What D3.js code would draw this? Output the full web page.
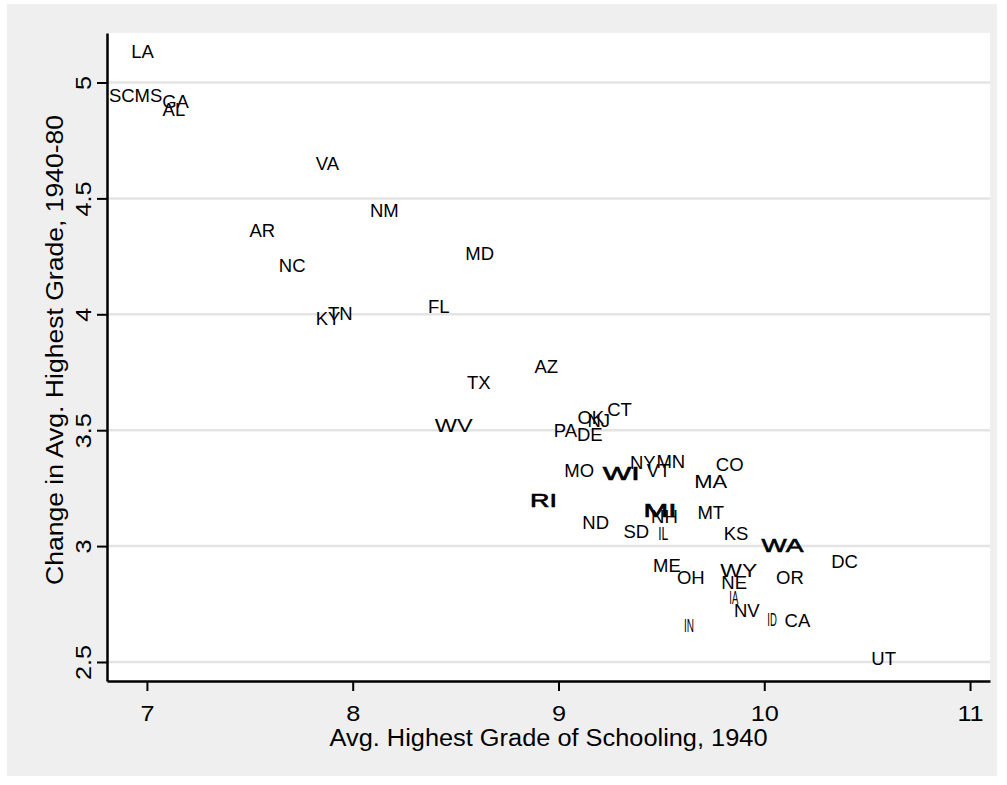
<!DOCTYPE html>
<html>
<head>
<meta charset="utf-8">
<script src="https://cdn.jsdelivr.net/npm/d3@7"></script>
<style>
  html, body { margin: 0; padding: 0; background: #ffffff; }
  svg text { font-family: "Liberation Sans", Arial, Helvetica, sans-serif; fill: #000; }
</style>
</head>
<body>
<svg id="chart" width="1007" height="785"></svg>
<script>
// State abbreviations, average highest grade in 1940, and change 1940-80
const states = ["LA","SC","MS","GA","AL","VA","NM","AR","NC","MD","TN","KY","FL",
  "TX","AZ","WV","OK","NJ","CT","PA","DE","MO","WI","NY","VT","MN","CO","MA",
  "RI","MI","NH","MT","ND","SD","IL","KS","WA","DC","ME","OH","WY","NE","OR",
  "IA","NV","ID","CA","IN","UT"];
const grade1940 = [6.979,6.878,7.007,7.139,7.131,7.877,8.154,7.561,7.706,8.617,7.940,7.880,8.418,
  8.613,8.941,8.491,9.157,9.196,9.297,9.034,9.152,9.101,9.305,9.410,9.487,9.546,9.832,9.740,
  8.927,9.493,9.515,9.740,9.181,9.378,9.509,9.863,10.089,10.390,9.527,9.643,9.876,9.854,10.125,
  9.852,9.915,10.038,10.161,9.634,10.580];
const change4080 = [5.136,4.944,4.944,4.920,4.884,4.651,4.450,4.364,4.213,4.263,4.004,3.983,4.033,
  3.706,3.774,3.519,3.556,3.544,3.592,3.500,3.481,3.327,3.314,3.361,3.328,3.364,3.353,3.280,
  3.197,3.156,3.129,3.144,3.102,3.065,3.057,3.055,3.005,2.935,2.916,2.865,2.897,2.842,2.865,
  2.777,2.721,2.686,2.678,2.657,2.517];

const xTicks = [7, 8, 9, 10, 11];
const yTicks = [2.5, 3, 3.5, 4, 4.5, 5];
const xTitle = "Avg. Highest Grade of Schooling, 1940";
const yTitle = "Change in Avg. Highest Grade, 1940-80";

// Labels whose glyphs render wide/heavy or narrow in this font (width in px)
const labelWidth = {WI: 37, WA: 42, WV: 38, WY: 37, RI: 27, MI: 33, MA: 33,
                    IA: 9, IN: 10, ID: 9.5, IL: 10};
const heavyLabels = new Set(["WI", "WA", "RI", "MI"]);

const plot = {left: 107, right: 990, top: 33, bottom: 681};

const svg = d3.select("#chart");

// outer graph region and plot region
svg.append("rect").attr("x", 7).attr("y", 4).attr("width", 990).attr("height", 772)
  .attr("fill", "#efefef");
svg.append("rect").attr("x", plot.left).attr("y", plot.top)
  .attr("width", plot.right - plot.left).attr("height", plot.bottom - plot.top)
  .attr("fill", "#ffffff");

const x = d3.scaleLinear().domain([6.806, 11.097]).range([plot.left, plot.right]);
const y = d3.scaleLinear().domain([2.418, 5.2135]).range([plot.bottom, plot.top]);

// horizontal grid lines
svg.append("g").selectAll("line").data(yTicks).join("line")
  .attr("x1", plot.left).attr("x2", plot.right)
  .attr("y1", d => y(d)).attr("y2", d => y(d))
  .attr("stroke", "#e4e4e4").attr("stroke-width", 2.5);

// stretch helper: widen text horizontally by a factor
function stretch(sel, factor) {
  sel.each(function() {
    const len = this.getComputedTextLength();
    d3.select(this).attr("textLength", len * factor).attr("lengthAdjust", "spacingAndGlyphs");
  });
}

// y axis
const yAxis = svg.append("g").attr("transform", `translate(${plot.left},0)`)
  .call(d3.axisLeft(y).tickValues(yTicks).tickFormat(d3.format("")).tickSize(10).tickSizeOuter(0));
yAxis.select(".domain").attr("stroke", "#000").attr("stroke-width", 2.5);
yAxis.selectAll(".tick line").attr("stroke", "#000").attr("stroke-width", 2);
yAxis.selectAll(".tick text")
  .attr("transform", "rotate(-90)")
  .attr("x", 0).attr("y", -16).attr("dy", 0)
  .attr("text-anchor", "middle")
  .style("font-size", "22.5px").style("font-family", null);
stretch(yAxis.selectAll(".tick text"), 1.12);

// x axis
const xAxis = svg.append("g").attr("transform", `translate(0,${plot.bottom})`)
  .call(d3.axisBottom(x).tickValues(xTicks).tickFormat(d3.format("")).tickSize(10).tickSizeOuter(0).tickPadding(14));
xAxis.select(".domain").attr("stroke", "#000").attr("stroke-width", 2.5);
xAxis.selectAll(".tick line").attr("stroke", "#000").attr("stroke-width", 2);
xAxis.selectAll(".tick text").style("font-size", "22px").style("font-family", null);
stretch(xAxis.selectAll(".tick text"), 1.15);
svg.selectAll(".tick text").attr("fill", "#000");

// axis titles
svg.append("text")
  .attr("x", (plot.left + plot.right) / 2).attr("y", 746)
  .attr("text-anchor", "middle").style("font-size", "23px")
  .attr("textLength", 438).attr("lengthAdjust", "spacingAndGlyphs")
  .text(xTitle);
svg.append("text")
  .attr("transform", "translate(63,350) rotate(-90)")
  .attr("text-anchor", "middle").style("font-size", "23px")
  .attr("textLength", 470).attr("lengthAdjust", "spacingAndGlyphs")
  .text(yTitle);

// state labels as markers
const pts = states.map((s, i) => ({s, gx: grade1940[i], ch: change4080[i]}));
svg.append("g").selectAll("text").data(pts).join("text")
  .attr("x", d => x(d.gx)).attr("y", d => y(d.ch)).attr("dy", "0.36em")
  .attr("text-anchor", "middle")
  .style("font-size", "18.5px")
  .attr("stroke", d => heavyLabels.has(d.s) ? "#000" : null)
  .attr("stroke-width", d => heavyLabels.has(d.s) ? 0.6 : null)
  .attr("textLength", d => labelWidth[d.s] ?? null)
  .attr("lengthAdjust", d => labelWidth[d.s] ? "spacingAndGlyphs" : null)
  .text(d => d.s);
</script>
</body>
</html>
